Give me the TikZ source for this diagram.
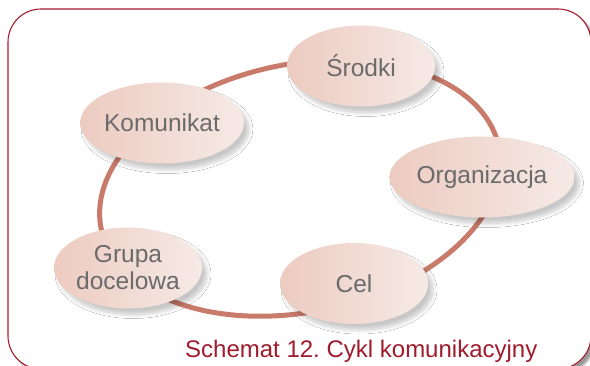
\documentclass[tikz,border=0pt]{standalone}
\usepackage{fontspec}
\setmainfont{Liberation Sans}
\usetikzlibrary{shapes.geometric,shadows.blur}
\definecolor{framered}{HTML}{A31D2E}
\definecolor{ringcol}{HTML}{C97B6B}
\definecolor{nodeleft}{HTML}{ECCBC0}
\definecolor{noderight}{HTML}{F6EAE6}
\definecolor{textgray}{HTML}{6B6B6B}
\definecolor{captionred}{HTML}{A01B2D}
\frenchspacing
\tikzset{
  framebox/.style={draw=framered, line width=1.1pt, fill=white, rounded corners=33pt,
    blur shadow={shadow xshift=4pt, shadow yshift=-4pt, shadow blur radius=2pt, shadow opacity=40}},
  ringline/.style={draw=ringcol, line width=5pt},
  bubble/.style={ellipse, minimum width=148pt, minimum height=81pt, inner sep=0pt,
    shading=axis, left color=nodeleft, right color=noderight, shading angle=90,
    text=textgray, font=\fontsize{24.5}{27}\selectfont, align=center,
    blur shadow={shadow xshift=5pt, shadow yshift=-6pt, shadow blur radius=4pt, shadow opacity=22, shadow blur steps=10}},
  captiontext/.style={text=captionred, font=\fontsize{24}{27}\selectfont, inner sep=0pt, anchor=base west}
}
\begin{document}
\begin{tikzpicture}[x=1pt,y=-1pt]
\useasboundingbox (0,0) rectangle (590,365);
\path[framebox] (8,9) rectangle (591,369);
\draw[ringline, rotate around={11.7:(300,188)}] (300,188) ellipse [x radius=203pt, y radius=124pt];
\node[bubble, left color=nodeleft, right color=noderight] (kom) at (162,123) {Komunikat};
\node[bubble, left color=nodeleft, right color=noderight] (srod) at (361,66) {Środki};
\node[bubble, left color=nodeleft, right color=noderight] (org) at (482,177) {Organizacja};
\node[bubble, left color=nodeleft, right color=noderight] (cel) at (354,283.5) {Cel};
\node[bubble, left color=nodeleft, right color=noderight] (grupa) at (128,268) {Grupa\\docelowa};
\node[captiontext] (cap) at (185,357) {Schemat 12. Cykl komunikacyjny};
\end{tikzpicture}
\end{document}
